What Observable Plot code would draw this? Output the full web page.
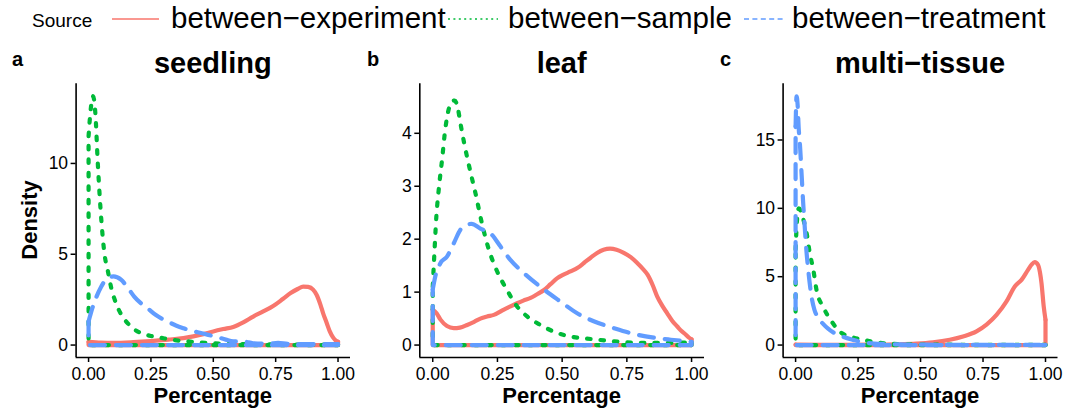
<!DOCTYPE html>
<html><head><meta charset="utf-8">
<script src="https://cdn.jsdelivr.net/npm/d3@7"></script>
<script src="https://cdn.jsdelivr.net/npm/@observablehq/plot@0.6"></script>
<style>
body{margin:0;background:#fff;font-family:"Liberation Sans",Arial,Helvetica,sans-serif;color:#000;}
#root{position:relative;width:1076px;height:410px;overflow:hidden;}
.abs{position:absolute;white-space:nowrap;line-height:1;}
.abs svg{display:block;}
</style></head><body><div id="root"></div>
<script>
// ---- data ----
const legendTitle = "Source";
const sources = ["between−experiment", "between−sample", "between−treatment"];
const colors = ["#F8766D", "#00BA38", "#619CFF"];
const panelTitles = ["seedling", "leaf", "multi−tissue"];
const panelLetters = ["a", "b", "c"];
const xLabel = "Percentage";
const yLabel = "Density";
const xTicks = [0, 0.25, 0.5, 0.75, 1];
const xTickLabels = ["0.00", "0.25", "0.50", "0.75", "1.00"];
const yTicksSeedling = [0, 5, 10];
const yTicksLeaf = [0, 1, 2, 3, 4];
const yTicksTissue = [0, 5, 10, 15];
const yMaxSeedling = 13.7, yMaxLeaf = 4.7, yMaxTissue = 18.2;

const seedlingExperiment = [[0,0.18],[0.05,0.13],[0.1,0.12],[0.18,0.16],[0.25,0.22],[0.32,0.3],[0.38,0.38],[0.42,0.48],[0.46,0.6],[0.5,0.75],[0.54,0.88],[0.58,1.0],[0.62,1.25],[0.66,1.57],[0.7,1.85],[0.74,2.15],[0.78,2.55],[0.81,2.86],[0.84,3.1],[0.86,3.22],[0.88,3.2],[0.9,3.05],[0.914,2.77],[0.93,2.2],[0.94,1.76],[0.955,1.2],[0.967,0.75],[0.98,0.42],[0.99,0.26],[1.0,0.18]];
const seedlingSample = [[0,11.5],[0.008,12.9],[0.018,13.7],[0.027,12.8],[0.037,10],[0.05,7.1],[0.064,5],[0.077,4.1],[0.09,3.2],[0.11,2.3],[0.13,1.7],[0.157,1.2],[0.18,0.9],[0.21,0.66],[0.25,0.5],[0.29,0.4],[0.34,0.28],[0.4,0.2],[0.5,0.1],[0.6,0.06],[0.7,0.04],[0.8,0.03],[0.9,0.02],[1.0,0.02]];
const seedlingTreatment = [[0,1.3],[0.01,1.8],[0.03,2.6],[0.05,3.2],[0.07,3.6],[0.1,3.78],[0.13,3.6],[0.16,3.1],[0.183,2.67],[0.21,2.3],[0.236,2.03],[0.27,1.65],[0.316,1.3],[0.35,1.08],[0.38,0.93],[0.45,0.66],[0.515,0.44],[0.55,0.3],[0.58,0.2],[0.62,0.2],[0.66,0.1],[0.72,0.08],[0.76,0.12],[0.8,0.06],[0.9,0.05],[1.0,0.05]];

const leafExperiment = [[0,0.67],[0.015,0.6],[0.03,0.48],[0.055,0.36],[0.081,0.32],[0.105,0.33],[0.133,0.38],[0.16,0.44],[0.184,0.5],[0.21,0.54],[0.236,0.57],[0.275,0.67],[0.3,0.73],[0.326,0.79],[0.35,0.84],[0.378,0.89],[0.4,0.95],[0.43,1.04],[0.455,1.15],[0.48,1.26],[0.505,1.33],[0.532,1.39],[0.56,1.46],[0.584,1.55],[0.61,1.65],[0.635,1.74],[0.66,1.8],[0.685,1.82],[0.71,1.8],[0.738,1.74],[0.765,1.66],[0.79,1.55],[0.81,1.45],[0.83,1.33],[0.85,1.13],[0.867,0.92],[0.886,0.75],[0.906,0.6],[0.925,0.46],[0.945,0.35],[0.96,0.27],[0.977,0.2],[0.99,0.14],[1.0,0.11]];
const leafSample = [[0,1.1],[0.005,1.6],[0.014,2.43],[0.023,2.93],[0.036,3.5],[0.049,4.1],[0.06,4.42],[0.072,4.59],[0.085,4.62],[0.097,4.47],[0.107,4.19],[0.12,3.85],[0.135,3.5],[0.15,3.18],[0.165,2.87],[0.19,2.3],[0.217,1.8],[0.249,1.39],[0.287,1.04],[0.326,0.73],[0.365,0.54],[0.416,0.38],[0.48,0.23],[0.545,0.15],[0.62,0.11],[0.7,0.07],[0.8,0.04],[0.9,0.04],[1.0,0.05]];
const leafTreatment = [[0,1.05],[0.01,1.3],[0.03,1.55],[0.055,1.67],[0.081,1.92],[0.107,2.18],[0.133,2.27],[0.15,2.29],[0.184,2.2],[0.223,2.11],[0.262,1.86],[0.3,1.61],[0.352,1.36],[0.416,1.1],[0.494,0.82],[0.558,0.6],[0.622,0.45],[0.7,0.32],[0.777,0.21],[0.854,0.14],[0.92,0.1],[1.0,0.06]];

const tissueExperiment = [[0,0.03],[0.1,0.02],[0.2,0.02],[0.3,0.03],[0.4,0.05],[0.484,0.1],[0.55,0.2],[0.617,0.39],[0.67,0.63],[0.724,1.0],[0.764,1.49],[0.804,2.2],[0.844,3.19],[0.877,4.29],[0.904,4.77],[0.93,5.5],[0.945,5.9],[0.957,6.06],[0.97,5.87],[0.978,5.3],[0.984,4.53],[0.993,2.8],[1.0,1.85]];
const tissueSample = [[0,7],[0.006,9.2],[0.013,10.0],[0.025,9.6],[0.035,8.9],[0.044,8.2],[0.057,6.7],[0.071,5.5],[0.084,4.0],[0.11,2.8],[0.144,1.73],[0.184,0.88],[0.217,0.63],[0.27,0.39],[0.32,0.2],[0.38,0.1],[0.5,0.04],[0.7,0.02],[1.0,0.01]];
const tissueTreatment = [[0,16],[0.004,18.2],[0.008,17.6],[0.012,16],[0.018,14.5],[0.024,12.5],[0.03,10.5],[0.036,8.8],[0.042,7.2],[0.05,5.6],[0.058,4.3],[0.066,3.3],[0.075,2.6],[0.09,2.0],[0.11,1.55],[0.13,1.2],[0.155,0.88],[0.19,0.6],[0.23,0.38],[0.27,0.2],[0.35,0.08],[0.45,0.04],[0.6,0.02],[1.0,0.01]];

// ---- styles / layout ----
const FONT = '"Liberation Sans", Arial, Helvetica, sans-serif';
const dashPatterns = [undefined, "3.5,10", "15,11"];
const legendDash = [undefined, "2,3.4", "5,3.4"];
const root = document.getElementById("root");

function addText(txt, opts) {
  const d = document.createElement("div");
  d.className = "abs";
  d.textContent = txt;
  Object.assign(d.style, opts);
  root.appendChild(d);
  return d;
}

// legend
addText(legendTitle, {left: "32px", top: "10.6px", fontSize: "19px"});
const legendItems = [
  {x1: 112, x2: 159, tx: 171},
  {x1: 448, x2: 498, tx: 508},
  {x1: 744, x2: 786, tx: 792}
];
sources.forEach((s, i) => {
  const it = legendItems[i];
  const wrap = document.createElement("div");
  wrap.className = "abs";
  wrap.style.left = it.x1 + "px";
  wrap.style.top = "14px";
  const w = it.x2 - it.x1;
  wrap.innerHTML = `<svg width="${w}" height="10"><line x1="0" x2="${w}" y1="5" y2="5" stroke="${colors[i]}" stroke-width="1.6" ${legendDash[i] ? `stroke-dasharray="${legendDash[i]}"` : ""}/></svg>`;
  root.appendChild(wrap);
  addText(s, {left: it.tx + "px", top: "3.3px", fontSize: "29.5px"});
});

const panels = [
  {series: [seedlingExperiment, seedlingSample, seedlingTreatment], yMax: yMaxSeedling, yTicks: yTicksSeedling, left: 0, width: 358, mL: 75.6, mR: 8, letterX: 12},
  {series: [leafExperiment, leafSample, leafTreatment], yMax: yMaxLeaf, yTicks: yTicksLeaf, left: 358, width: 358, mL: 61.3, mR: 12, letterX: 367},
  {series: [tissueExperiment, tissueSample, tissueTreatment], yMax: yMaxTissue, yTicks: yTicksTissue, left: 716, width: 360, mL: 66.6, mR: 18.5, letterX: 720}
];
const MT = 83.3, MB = 53;

panels.forEach((p, i) => {
  const marks = [];
  p.series.forEach((pts, s) => {
    const style = {stroke: colors[s], strokeWidth: 4.2, strokeLinecap: "round", strokeLinejoin: "round"};
    if (dashPatterns[s]) style.strokeDasharray = dashPatterns[s];
    const first = pts[0], last = pts[pts.length - 1];
    const closing = [[last[0], last[1]], [last[0], 0], [first[0], 0], [first[0], first[1]]];
    marks.push(Plot.line(closing, {x: d => d[0], y: d => d[1], ...style}));
    marks.push(Plot.line(pts, {x: d => d[0], y: d => d[1], curve: "monotone-x", ...style}));
  });
  const y0 = -0.05 * p.yMax, y1 = 1.05 * p.yMax;
  marks.push(Plot.ruleX([-0.05], {stroke: "black", strokeWidth: 1.6}));
  marks.push(Plot.ruleY([y0], {stroke: "black", strokeWidth: 1.6}));
  marks.push(Plot.axisX({ticks: xTicks, tickFormat: d => xTickLabels[xTicks.indexOf(d)], tickSize: 5, tickPadding: 5, fontSize: 17.5, label: null, strokeWidth: 1.5, fill: "black", stroke: "black"}));
  marks.push(Plot.axisY({ticks: p.yTicks, tickFormat: d => String(d), tickSize: 5, tickPadding: 3, fontSize: 17.5, label: null, strokeWidth: 1.5, fill: "black", stroke: "black"}));
  const svg = Plot.plot({
    width: p.width, height: 410,
    marginTop: MT, marginBottom: MB, marginLeft: p.mL, marginRight: p.mR,
    x: {domain: [-0.05, 1.05]},
    y: {domain: [y0, y1]},
    style: {fontFamily: FONT, background: "transparent", color: "black", overflow: "visible"},
    marks
  });
  const wrap = document.createElement("div");
  wrap.className = "abs";
  wrap.style.left = p.left + "px";
  wrap.style.top = "0px";
  wrap.appendChild(svg);
  root.appendChild(wrap);

  const cx = p.left + p.mL + (p.width - p.mL - p.mR) / 2;
  addText(panelLetters[i], {left: p.letterX + "px", top: (65.5 - 0.8465 * 20) + "px", fontSize: "20px", fontWeight: "bold"});
  addText(panelTitles[i], {left: cx + "px", top: (73.3 - 0.8465 * 29) + "px", fontSize: "29px", fontWeight: "bold", transform: "translateX(-50%)"});
  addText(xLabel, {left: cx + "px", top: (404 - 0.8465 * 22) + "px", fontSize: "22px", fontWeight: "bold", transform: "translateX(-50%)"});
  if (i === 0) {
    addText(yLabel, {left: "29.5px", top: (MT + (410 - MT - MB) / 2) + "px", fontSize: "22px", fontWeight: "bold", transform: "translate(-50%,-50%) rotate(-90deg)"});
  }
});
</script>
</body></html>
